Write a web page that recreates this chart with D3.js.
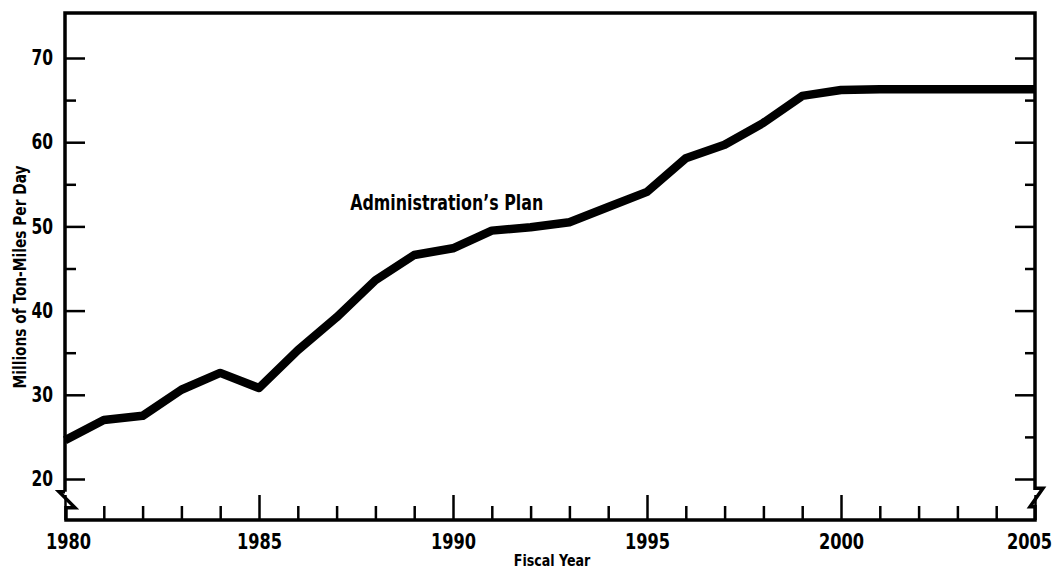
<!DOCTYPE html>
<html>
<head>
<meta charset="utf-8">
<script src="https://cdn.jsdelivr.net/npm/d3@7"></script>
<style>
  body { margin: 0; background: #fff; }
  svg { display: block; }
  text { font-family: "DejaVu Sans Condensed", "DejaVu Sans", sans-serif; font-stretch: condensed; font-weight: bold; fill: #000; }
  .tick line { stroke: #000; stroke-width: 2.5; }
</style>
</head>
<body>
<div id="container"></div>
<script>
// fiscal years and ton-miles (millions per day)
var years = [1980, 1981, 1982, 1983, 1984, 1985, 1986, 1987, 1988, 1989, 1990, 1991, 1992,
             1993, 1994, 1995, 1996, 1997, 1998, 1999, 2000, 2001, 2002, 2003, 2004, 2005];
var tonMiles = [24.6, 27.0, 27.5, 30.6, 32.6, 30.8, 35.3, 39.2, 43.6, 46.6, 47.4, 49.5, 49.9,
                50.5, 52.3, 54.1, 58.1, 59.7, 62.3, 65.5, 66.2, 66.3, 66.3, 66.3, 66.3, 66.3];
var yMajor = [20, 30, 40, 50, 60, 70];
var yMinor = [25, 35, 45, 55, 65];
var xMajor = [1980, 1985, 1990, 1995, 2000, 2005];
var seriesLabel = "Administration\u2019s Plan";

var width = 1054, height = 569;
var plotLeft = 65, plotRight = 1035, plotTop = 13, plotBottom = 520;
var squeeze = 0.82; // the original uses a narrow face

var svg = d3.select("#container").append("svg").attr("width", width).attr("height", height);

var x = d3.scaleLinear().domain([1980, 2005]).range([plotLeft, plotRight]);
var y = d3.scaleLinear().domain([20, 70]).range([479, 58]);

// frame with axis breaks near the bottom
var frame = d3.path();
frame.moveTo(plotLeft, y(18.5));
frame.lineTo(plotLeft, plotTop);
frame.lineTo(plotRight, plotTop);
frame.lineTo(plotRight, y(18.9));
frame.lineTo(plotRight + 8, y(18.9));
frame.lineTo(plotRight - 5, y(16.7));
frame.lineTo(plotRight, y(16.7));
frame.lineTo(plotRight, plotBottom);
frame.lineTo(plotLeft + 1, plotBottom);
frame.lineTo(plotLeft + 1, y(16.6));
frame.lineTo(plotLeft + 10, y(16.6));
frame.lineTo(plotLeft - 6, y(18.5));
frame.lineTo(plotLeft, y(18.5));
svg.append("path").attr("d", frame.toString())
  .attr("fill", "none").attr("stroke", "#000").attr("stroke-width", 3.5)
  .attr("stroke-linejoin", "miter");

function clean(g) { g.select(".domain").remove(); }

// left axis
svg.append("g").attr("transform", "translate(" + plotLeft + ",0)")
  .call(d3.axisLeft(y).tickValues(yMajor).tickSize(-20).tickPadding(12).tickFormat(d3.format("d")))
  .call(clean)
  .selectAll("text")
  .style("font-size", "21px")
  .attr("x", -12 / squeeze)
  .attr("transform", "scale(" + squeeze + ",1)");
svg.append("g").attr("transform", "translate(" + plotLeft + ",0)")
  .call(d3.axisLeft(y).tickValues(yMinor).tickSize(-11).tickFormat(""))
  .call(clean);

// right axis
svg.append("g").attr("transform", "translate(" + plotRight + ",0)")
  .call(d3.axisRight(y).tickValues(yMajor).tickSize(-20).tickFormat(""))
  .call(clean);
svg.append("g").attr("transform", "translate(" + plotRight + ",0)")
  .call(d3.axisRight(y).tickValues(yMinor).tickSize(-10).tickFormat(""))
  .call(clean);

// bottom axis
svg.append("g").attr("transform", "translate(0," + plotBottom + ")")
  .call(d3.axisBottom(x).tickValues(xMajor).tickSize(-25).tickPadding(13).tickFormat(d3.format("d")))
  .call(clean)
  .selectAll("text")
  .style("font-size", "22px")
  .attr("x", function (d) { return d === 1980 ? 3 / squeeze : d === 2005 ? -6 / squeeze : 0; })
  .attr("transform", "scale(" + squeeze + ",1)");
svg.append("g").attr("transform", "translate(0," + plotBottom + ")")
  .call(d3.axisBottom(x).tickValues(years.filter(function (d) { return d % 5 !== 0; })).tickSize(-14).tickFormat(""))
  .call(clean);

// the plan line
var line = d3.line()
  .x(function (d, i) { return x(years[i]); })
  .y(function (d) { return y(d); });
svg.append("path").datum(tonMiles)
  .attr("d", line)
  .attr("fill", "none").attr("stroke", "#000").attr("stroke-width", 8.5)
  .attr("stroke-linejoin", "round");

svg.append("text")
  .attr("transform", "translate(" + x(1987.35) + "," + y(52.0) + ") scale(0.86,1)")
  .style("font-size", "20.5px")
  .text(seriesLabel);

// axis titles
svg.append("text")
  .attr("transform", "translate(" + ((plotLeft + plotRight) / 2 + 2) + ",566) scale(0.88,1)")
  .attr("text-anchor", "middle")
  .style("font-size", "16px")
  .text("Fiscal Year");

svg.append("text")
  .attr("transform", "translate(26,277) rotate(-90) scale(0.9,1)")
  .attr("text-anchor", "middle")
  .style("font-size", "17px")
  .text("Millions of Ton-Miles Per Day");
</script>
</body>
</html>
